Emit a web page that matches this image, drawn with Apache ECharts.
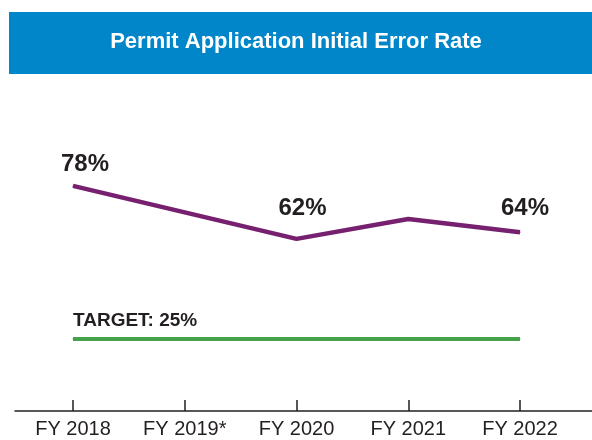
<!DOCTYPE html>
<html>
<head>
<meta charset="utf-8">
<script src="https://cdn.jsdelivr.net/npm/echarts@6/dist/echarts.min.js"></script>
<style>html,body{margin:0;padding:0;background:#fff}#c{width:592px;height:440px}</style>
</head>
<body>
<div id="c"></div>
<script>
var categories = ["FY 2018", "FY 2019*", "FY 2020", "FY 2021", "FY 2022"];
var errorRate = [78, 70, 62, 68, 64];
var labelShown = [true, false, true, false, true];
var targetValue = 25;
var titleText = "Permit Application Initial Error Rate";
var targetText = "TARGET: 25%";

var FONT = '"Liberation Sans", Arial, sans-serif';
var DARK = '#231f20';
var labelOffsets = [[12, -4], [0, 0], [6, -13], [0, 0], [5, -6]];

var chart = echarts.init(document.getElementById('c'), null, {renderer: 'canvas'});

var lineData = errorRate.map(function (v, i) {
  return {
    value: [i, v],
    label: {
      show: labelShown[i],
      position: 'top',
      distance: 5,
      offset: labelOffsets[i],
      formatter: function (p) { return p.value[1] + '%'; },
      fontFamily: FONT, fontWeight: 'bold', fontSize: 24, color: DARK
    }
  };
});

var targetData = [[0, targetValue], [categories.length - 1, targetValue]].map(function (d, i) {
  return {
    value: d,
    label: {
      show: i === 0,
      position: 'top',
      align: 'left',
      distance: 8,
      formatter: targetText,
      fontFamily: FONT, fontWeight: 'bold', fontSize: 19, color: DARK
    }
  };
});

var tickVals = categories.map(function (c, i) { return i; });

chart.setOption({
  animation: false,
  title: {
    text: titleText,
    left: 'center',
    top: 31,
    padding: 0,
    textStyle: {color: '#ffffff', fontFamily: FONT, fontWeight: 'bold', fontSize: 22}
  },
  graphic: [{
    type: 'rect', z: -1,
    shape: {x: 9, y: 12, width: 583, height: 62},
    style: {fill: '#0086c9'}
  }],
  grid: {left: 15, right: 0, top: 80, bottom: 29},
  xAxis: {
    type: 'value',
    min: -0.519,
    max: 4.644,
    splitLine: {show: false},
    axisLine: {show: true, lineStyle: {color: DARK, width: 1.5}},
    axisTick: {show: true, inside: true, length: 11, customValues: tickVals, lineStyle: {color: DARK, width: 1.5}},
    axisLabel: {
      customValues: tickVals,
      margin: 8,
      fontFamily: FONT, fontSize: 20, color: DARK,
      formatter: function (v) { return categories[Math.round(v)]; }
    }
  },
  yAxis: [
    {type: 'value', min: 10, max: 110, show: false},
    {type: 'value', min: 0, max: 115, show: false}
  ],
  series: [
    {
      type: 'line',
      yAxisIndex: 0,
      data: lineData,
      symbol: 'circle',
      symbolSize: 1,
      itemStyle: {color: '#76206f'},
      lineStyle: {color: '#76206f', width: 4.5}
    },
    {
      type: 'line',
      yAxisIndex: 1,
      data: targetData,
      symbol: 'circle',
      symbolSize: 1,
      itemStyle: {color: '#46a24a'},
      lineStyle: {color: '#46a24a', width: 4}
    }
  ]
});
</script>
</body>
</html>
